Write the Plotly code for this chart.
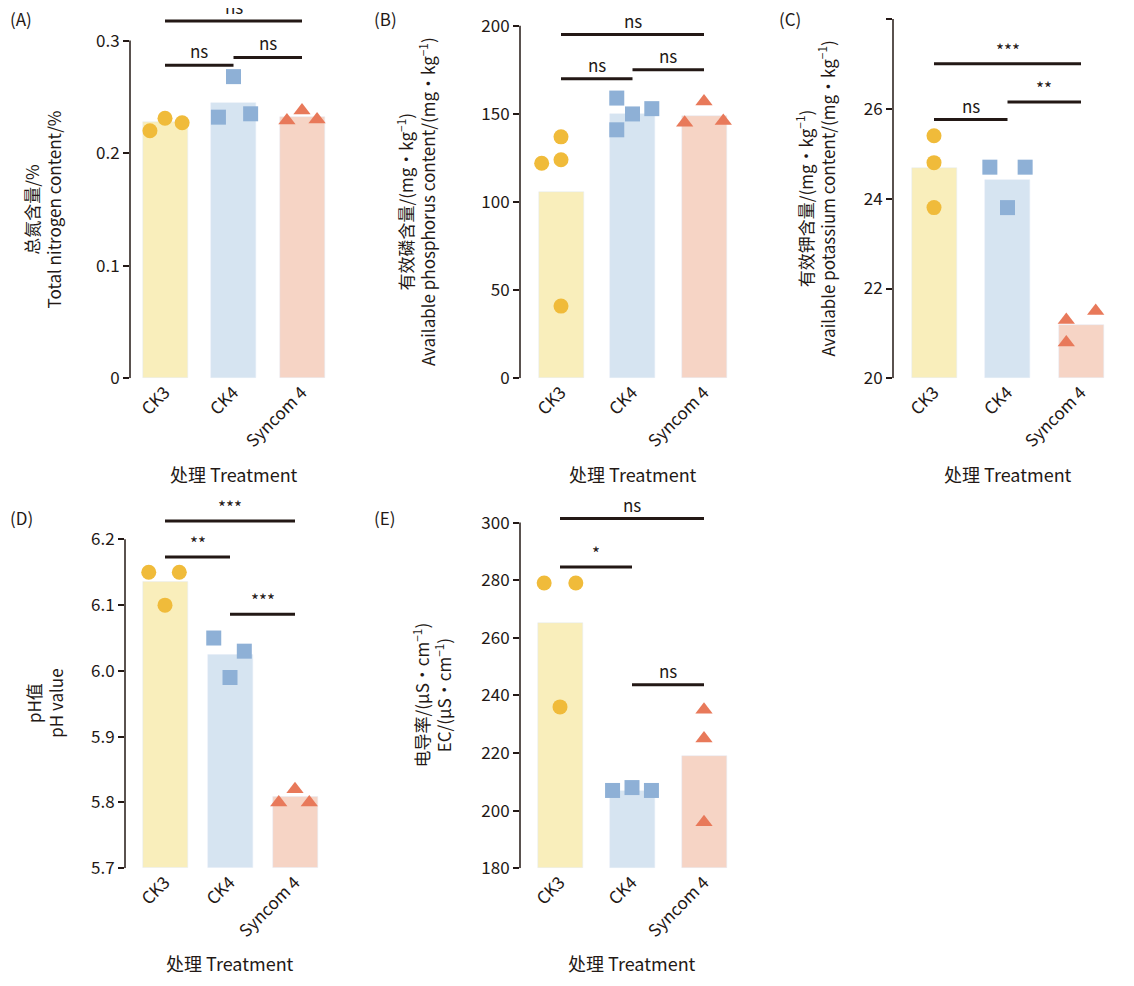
import plotly.graph_objects as go

W, H = 1118, 970
OFF = 8
FONT = "Noto Sans CJK SC"
groups = ["CK3", "CK4", "Syncom 4"]
bar_cols = ["#f9eebb", "#d6e4f1", "#f6d4c5"]
pt_cols = ["#f0bb3a", "#8eb0d6", "#e8795a"]
symbols = ["circle", "square", "triangle-up"]

# ---- data ----
A_bar = [0.228, 0.245, 0.232]
A_pts = [[0.220, 0.231, 0.227], [0.232, 0.268, 0.235], [0.229, 0.238, 0.230]]
B_bar = [106, 150, 149]
B_pts = [[122, 124, 137, 41], [150, 141, 159, 153], [145, 157, 146]]
C_bar = [24.68, 24.42, 21.2]
C_pts = [[25.4, 24.8, 23.8], [24.7, 23.8, 24.7], [21.3, 20.8, 21.5]]
D_bar = [6.135, 6.025, 5.808]
D_pts = [[6.15, 6.10, 6.15], [6.05, 5.99, 6.03], [5.80, 5.82, 5.80]]
E_bar = [265, 207, 219]
E_pts = [[279, 279, 236], [207, 208, 207], [235, 225, 196]]

A_sig = [(0, 2, 0.3175, "ns"), (0, 1, 0.278, "ns"), (1, 2, 0.285, "ns")]
B_sig = [(0, 2, 195, "ns"), (0, 1, 170, "ns"), (1, 2, 175, "ns")]
C_sig = [(0, 2, 27.0, "***"), (0, 1, 25.76, "ns"), (1, 2, 26.15, "**")]
D_sig = [(0, 2, 6.228, "***"), (0, 1, 6.173, "**"), (1, 2, 6.086, "***")]
E_sig = [(0, 2, 301.4, "ns"), (0, 1, 284.6, "*"), (1, 2, 243.7, "ns")]

A_jit = [[-0.22, 0.0, 0.25], [-0.22, 0.0, 0.25], [-0.22, 0.0, 0.22]]
B_jit = [[-0.27, 0.0, 0.0, 0.0], [0.0, -0.22, -0.22, 0.27], [-0.27, 0.0, 0.27]]
C_jit = [[0.0, 0.0, 0.0], [-0.24, 0.0, 0.24], [-0.2, -0.2, 0.2]]
D_jit = [[-0.25, 0.0, 0.22], [-0.25, 0.0, 0.22], [-0.25, 0.0, 0.22]]
E_jit = [[-0.22, 0.22, 0.0], [-0.27, 0.0, 0.27], [0.0, 0.0, 0.0]]

def X(p):
    return (p - OFF) / W

def Y(p):
    return 1 - (p - OFF) / H

panels = [
    ("(A)", A_bar, A_pts, A_jit, A_sig, [0, 0.1, 0.2, 0.3], None, 165, 68.5, 130, 330,
     (0, 382), (0.3, 40), 12, 0.3, "总氮含量/%<br>Total nitrogen content/%", 42, (8, 18), 479),
    ("(B)", B_bar, B_pts, B_jit, B_sig, [0, 50, 100, 150, 200], None, 561, 71.5, 520, 740,
     (0, 382), (200, 25), 12, 200, "有效磷含量/(mg·kg<sup>−1</sup>)<br>Available phosphorus content/(mg·kg<sup>−1</sup>)", 416, (372, 18), 479),
    ("(C)", C_bar, C_pts, C_jit, C_sig, [20, 22, 24, 26, 28], None, 934, 73.5, 893, 1115,
     (20, 382), (28, 18), 12, 28, "有效钾含量/(mg·kg<sup>−1</sup>)<br>Available potassium content/(mg·kg<sup>−1</sup>)", 815, (777, 18), 479),
    ("(D)", D_bar, D_pts, D_jit, D_sig, [5.7, 5.8, 5.9, 6.0, 6.1, 6.2], ".1f", 165, 65, 125, 330,
     (5.7, 878), (6.2, 545), 505, 6.2, "pH值<br>pH value", 45, (8, 523), 974),
    ("(E)", E_bar, E_pts, E_jit, E_sig, [180, 200, 220, 240, 260, 280, 300], None, 560, 72, 520, 740,
     (180, 878), (300, 528), 498, 300, "电导率/(μS·cm<sup>−1</sup>)<br>EC/(μS·cm<sup>−1</sup>)", 432, (372, 523), 974),
]

fig = go.Figure()
annotations, shapes = [], []
BAR_PX = 45
TXT = "#231815"

for i, (lab, bars, pts, jit, sig, ticks, fmt, c0, sp, xl, xr, (v0, p0), (v1, p1),
        top_px, ax_top, ytitle, ytx, labpos, xtitle_y) in enumerate(panels):
    n = "" if i == 0 else str(i + 1)
    xa, ya = "x" + n, "y" + n
    scale = (p0 - p1) / (v1 - v0)
    rng_top = v0 + (p0 - top_px) / scale
    fig.add_trace(go.Bar(x=[0, 1, 2], y=[b - v0 for b in bars], base=v0, marker_color=bar_cols,
                         width=BAR_PX / sp, xaxis=xa, yaxis=ya, showlegend=False))
    for g in range(3):
        fig.add_trace(go.Scatter(x=[g + j for j in jit[g]], y=pts[g], mode="markers",
                                 marker=dict(symbol=symbols[g], color=pt_cols[g], size=15, line_width=0),
                                 xaxis=xa, yaxis=ya, showlegend=False, cliponaxis=False))
    for (a, b, yv, txt) in sig:
        shapes.append(dict(type="line", xref=xa, yref=ya, x0=a, x1=b, y0=yv, y1=yv,
                           line=dict(color=TXT, width=3)))
        annotations.append(dict(xref=xa, yref=ya, x=(a + b) / 2, y=yv, text=txt, showarrow=False,
                                yanchor="bottom", yshift=0, font=dict(size=17, color=TXT, family=FONT)))
    shapes.append(dict(type="line", xref=xa + " domain", yref=ya, x0=0, x1=0, y0=v0, y1=ax_top,
                       line=dict(color=TXT, width=1.5)))
    fig.layout["xaxis" + n] = dict(domain=[X(xl), X(xr)], range=[(xl - c0) / sp, (xr - c0) / sp],
                                   tickvals=[0, 1, 2], ticktext=groups,
                                   tickangle=-45, showline=False, showgrid=False, zeroline=False,
                                   tickfont=dict(size=17, color=TXT, family=FONT), anchor=ya, ticks="")
    fig.layout["yaxis" + n] = dict(domain=[Y(p0), Y(top_px)], range=[v0, rng_top], tickvals=ticks,
                                   tickformat=fmt, showline=False, showgrid=False, zeroline=False,
                                   ticks="outside", ticklen=6, tickwidth=1.5, tickcolor=TXT,
                                   tickfont=dict(size=17, color=TXT, family=FONT), anchor=xa)
    annotations.append(dict(xref="paper", yref="paper", x=X(ytx), y=Y((p0 + p1) / 2),
                            text=ytitle, textangle=-90, showarrow=False, xanchor="center", yanchor="middle",
                            font=dict(size=17, color=TXT, family=FONT)))
    annotations.append(dict(xref="paper", yref="paper", x=X(labpos[0]), y=Y(labpos[1]), text=lab,
                            showarrow=False, xanchor="left", yanchor="middle",
                            font=dict(size=17, color=TXT, family=FONT)))
    annotations.append(dict(xref="paper", yref="paper", x=X(c0 + sp), y=Y(xtitle_y),
                            text="处理 Treatment", showarrow=False, xanchor="center", yanchor="middle",
                            font=dict(size=18, color=TXT, family=FONT)))

fig.update_layout(width=W, height=H, margin=dict(l=0, r=0, t=0, b=0), plot_bgcolor="white",
                  paper_bgcolor="white", annotations=annotations, shapes=shapes, bargap=0)
fig.write_html("out.html")
